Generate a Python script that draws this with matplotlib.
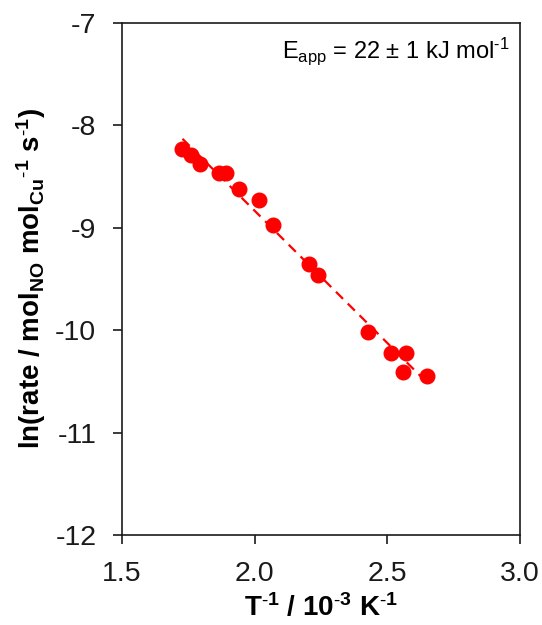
import numpy as np
import matplotlib
matplotlib.use("Agg")
import matplotlib.pyplot as plt

# Arrhenius data: inverse temperature (10^-3 K^-1) vs ln(rate)
inv_T = [1.728, 1.759, 1.795, 1.865, 1.893, 1.941, 2.016, 2.070,
         2.206, 2.240, 2.426, 2.513, 2.570, 2.560, 2.650]
ln_rate = [-8.23, -8.29, -8.38, -8.46, -8.46, -8.62, -8.73, -8.97,
           -9.35, -9.46, -10.02, -10.22, -10.22, -10.41, -10.45]

x_ticks = [1.5, 2.0, 2.5, 3.0]
y_ticks = [-12, -11, -10, -9, -8, -7]
annotation = r"E$_{app}$ = 22 ± 1 kJ mol$^{‑1}$"

plt.rcParams['font.family'] = ['Liberation Sans', 'DejaVu Sans']
plt.rcParams['mathtext.default'] = 'regular'
plt.rcParams['axes.unicode_minus'] = False

fig = plt.figure(figsize=(5.42, 6.25), dpi=100)
ax = fig.add_axes([122 / 542, 90 / 625, 398 / 542, 512 / 625])

x = np.array(inv_T)
y = np.array(ln_rate)
slope, intercept = np.polyfit(x, y, 1)
xf = np.array([x.min(), x.max()])
ax.plot(xf, slope * xf + intercept, ls=(0, (4.5, 3)), color='#ff0000', lw=1.6, zorder=2)
ax.plot(x, y, 'o', color='#ff0000', ms=10.5, mec='#ff0000', zorder=3)

ax.set_xlim(1.5, 3.0)
ax.set_ylim(-12, -7)
ax.set_xticks(x_ticks)
ax.set_xticklabels([f"{v:.1f}" for v in x_ticks])
ax.set_yticks(y_ticks)
ax.set_yticklabels([str(v) for v in y_ticks])
ax.tick_params(direction='out', length=6.5, width=1.2, labelsize=20.5, colors='#1a1a1a')
ax.tick_params(axis='x', pad=12)
ax.tick_params(axis='y', pad=12)
for s in ax.spines.values():
    s.set_linewidth(1.2)
    s.set_color('#1a1a1a')

ax.set_xlabel(r"T$^{‑1}$ / 10$^{‑3}$ K$^{‑1}$", fontsize=20, fontweight='bold', labelpad=5)
ax.set_ylabel(r"ln(rate / mol$_{NO}$ mol$_{Cu}$$^{‑1}$ s$^{‑1}$)", fontsize=20,
              fontweight='bold', labelpad=5)
ax.text(0.975, 0.975, annotation, transform=ax.transAxes, ha='right', va='top', fontsize=17)

fig.savefig("out.png", dpi=100)
